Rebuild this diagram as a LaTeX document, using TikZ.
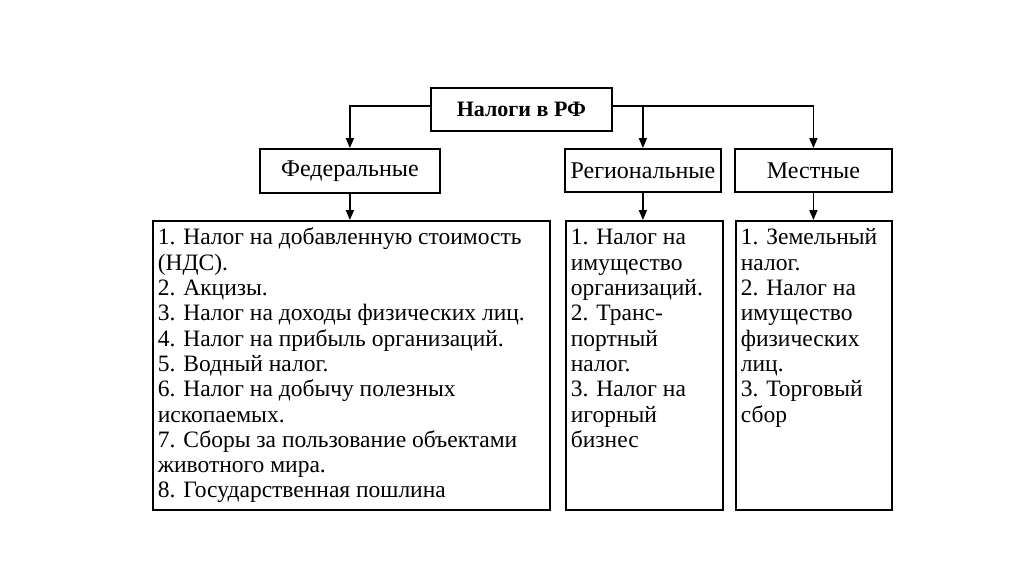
\documentclass[tikz,border=0pt]{standalone}
\usepackage{fontspec}
\setmainfont{Liberation Serif}
\usetikzlibrary{arrows.meta}
\newcommand\listtext[3]{\parbox[c][#2pt][t]{#1pt}{\raggedright\leftskip=5pt\fontsize{23.5}{25.3}\selectfont\lineskiplimit=-20pt\rule{0pt}{24pt}#3}}
\begin{document}
\begin{tikzpicture}[x=1pt,y=-1pt,
  box/.style={draw,line width=1.8pt,inner sep=0pt,anchor=north west},
  head/.style={box,font=\fontsize{24}{28}\selectfont},
  arr/.style={line width=1.6pt,-{Triangle[length=10pt,width=8pt]}}]
\useasboundingbox (0,0) rectangle (1024,574);
\fill[white] (0,0) rectangle (1024,574);
\node[box,minimum width=181pt,minimum height=43pt,font=\bfseries\fontsize{22}{26}\selectfont] (top) at (430,87) {Налоги в РФ};
\node[head,minimum width=180pt,minimum height=44pt] (fed) at (259,148) {Федеральные};
\node[head,minimum width=156pt,minimum height=43pt] (reg) at (564,148) {Региональные};
\node[head,minimum width=157pt,minimum height=43pt] (loc) at (734,148) {Местные};
\node[box] (fedl) at (152,220) {\listtext{397}{289}{1. Налог на добавленную стоимость\\(НДС).\\2. Акцизы.\\3. Налог на доходы физических лиц.\\4. Налог на прибыль организаций.\\5. Водный налог.\\6. Налог на добычу полезных\\ископаемых.\\7. Сборы за пользование объектами\\животного мира.\\8. Государственная пошлина}};
\node[box] (regl) at (565,220) {\listtext{157}{289}{1. Налог на\\имущество\\организаций.\\2. Транс-\\портный\\налог.\\3. Налог на\\игорный\\бизнес}};
\node[box] (locl) at (735,220) {\listtext{156}{289}{1. Земельный\\налог.\\2. Налог на\\имущество\\физических\\лиц.\\3. Торговый\\сбор}};
\coordinate (jl) at ([yshift=3.5pt]top.west);
\coordinate (jr) at ([yshift=3.5pt]top.east);
\draw[arr] (jl) -| (fed.north);
\draw[arr] (jr) -| (loc.north);
\draw[arr] (jr -| reg.north) -- (reg.north);
\draw[arr] (fed.south) -- (fed.south |- fedl.north);
\draw[arr] (reg.south) -- (reg.south |- regl.north);
\draw[arr] (loc.south) -- (loc.south |- locl.north);
\end{tikzpicture}
\end{document}
